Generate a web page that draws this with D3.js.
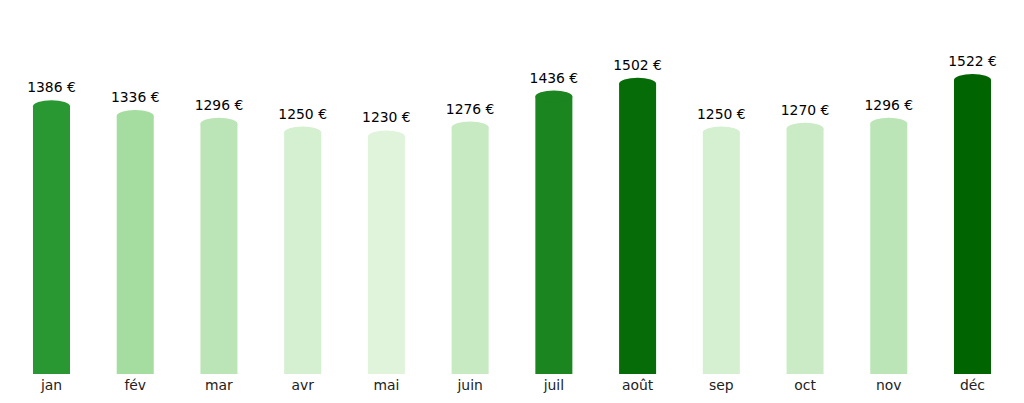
<!DOCTYPE html>
<html>
<head>
<meta charset="utf-8">
<script src="https://cdn.jsdelivr.net/npm/d3@7"></script>
<style>
  body { margin: 0; background: #fff; }
  svg { display: block; }
  text { font-family: "DejaVu Sans", sans-serif; font-size: 13.9px; }
</style>
</head>
<body>
<svg id="chart" width="1024" height="403"></svg>
<script>
// monthly amounts
var months = ['jan', 'fév', 'mar', 'avr', 'mai', 'juin', 'juil', 'août', 'sep', 'oct', 'nov', 'déc'];
var amounts = [1386, 1336, 1296, 1250, 1230, 1276, 1436, 1502, 1250, 1270, 1296, 1522];

var width = 1024,
    height = 403,
    baseY = 374,
    capRy = 6;

var svg = d3.select('#chart');

var x = d3.scaleBand()
    .domain(months)
    .range([10, 1014])
    .paddingInner(0.558)
    .paddingOuter(0.2745);

var y = d3.scaleLinear()
    .domain([0, d3.max(amounts)])
    .range([baseY, 80]);

// light greens below the mean, dark greens above it
var lo = d3.min(amounts), hi = d3.max(amounts), mean = d3.mean(amounts);
var color = d3.scaleLinear()
    .domain([lo, mean - 1, mean + 0.5, hi])
    .range(['#e0f4dc', '#a5dca0', '#39aa44', '#006400'])
    .interpolate(d3.interpolateRgb)
    .clamp(true);

var data = months.map(function(m, i) { return { month: m, value: amounts[i] }; });

var bars = svg.append('g').selectAll('g')
    .data(data)
    .enter().append('g');

bars.append('rect')
    .attr('x', function(d) { return x(d.month); })
    .attr('y', function(d) { return y(d.value); })
    .attr('width', x.bandwidth())
    .attr('height', function(d) { return baseY - y(d.value); })
    .style('fill', function(d) { return color(d.value); });

// rounded cap on top
bars.append('ellipse')
    .attr('cx', function(d) { return x(d.month) + x.bandwidth() / 2; })
    .attr('cy', function(d) { return y(d.value); })
    .attr('rx', x.bandwidth() / 2)
    .attr('ry', capRy)
    .style('fill', function(d) { return color(d.value); });

bars.append('text')
    .attr('x', function(d) { return x(d.month) + x.bandwidth() / 2; })
    .attr('y', function(d) { return y(d.value) - capRy - 8; })
    .attr('text-anchor', 'middle')
    .style('fill', '#000')
    .text(function(d) { return d.value + ' €'; });

// month labels
svg.append('g').selectAll('text')
    .data(months)
    .enter().append('text')
    .attr('x', function(d) { return x(d) + x.bandwidth() / 2; })
    .attr('y', 390)
    .attr('text-anchor', 'middle')
    .style('fill', '#222')
    .text(function(d) { return d; });
</script>
</body>
</html>
